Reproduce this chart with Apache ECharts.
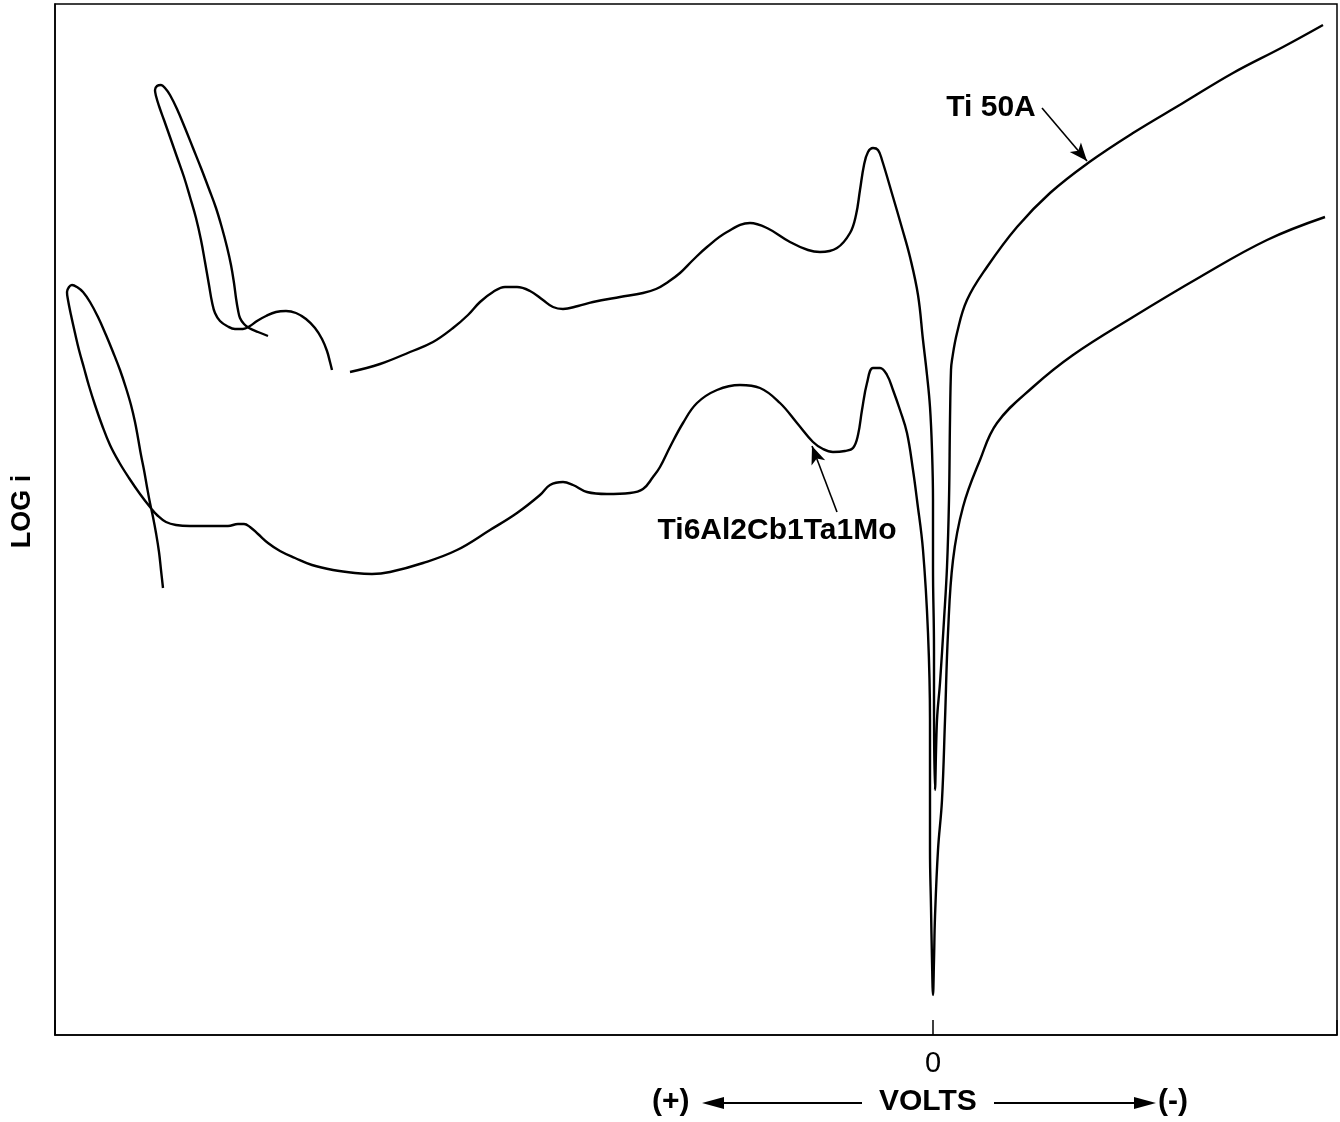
<!DOCTYPE html>
<html>
<head>
<meta charset="utf-8">
<script src="https://cdn.jsdelivr.net/npm/echarts@6/dist/echarts.min.js"></script>
<style>
html,body{margin:0;padding:0;background:#fff;}
#chart{width:1340px;height:1122px;}
</style>
</head>
<body>
<div id="chart"></div>
<script>
// potential (relative, 0 = corrosion potential) vs log i (relative units)
// Ti 50A : reverse loop + hump at the anodic end
var ti50aLoop = [
  [-665,699],[-675,703],[-684,707],[-689,711],[-693,717],[-695,725],[-697,737],[-699,752],
  [-702,770],[-706,788],[-711,807],[-717,827],[-724,846],[-732,867],[-740,887],[-748,907],
  [-756,926],[-763,940],[-768,947],[-772,950],[-776,949],[-778,945],[-777,939],[-774,929],
  [-769,915],[-763,898],[-756,878],[-749,858],[-743,838],[-737,817],[-732,795],[-728,773],
  [-724,750],[-721,733],[-718,722],[-713,714],[-706,709],[-698,706],[-690,706],[-683,709],
  [-676,714],[-667,719],[-657,723],[-647,724],[-637,722],[-627,716],[-618,707],[-611,696],
  [-606,684],[-603,673],[-601,665]
];
// Ti 50A : main scan
var ti50aMain = [
  [-583,663],[-553,671],[-523,683],[-500,693],[-480,707],[-465,720],[-453,733],[-440,743],
  [-428,748],[-416,748],[-403,744],[-390,735],[-380,728],[-370,726],[-355,729],[-340,733],
  [-313,738],[-290,742],[-277,746],[-265,753],[-253,762],[-240,775],[-226,788],[-206,803],
  [-183,812],[-166,807],[-143,793],[-125,785],[-113,783],[-96,787],[-83,802],[-77,820],
  [-73,845],[-69,870],[-65,883],[-60,887],[-55,885],[-51,875],[-40,838],[-31,807],
  [-23,778],[-15,740],[-10,695],[-6,660],[-3,628],[-1,585],[0,535],[0,468],[1,385],
  [1,335],[2,245],[4,315],[7,352],[11,415],[14,468],[16,535],[17,615],[18,665],[19,675],
  [24,702],[34,735],[54,768],[84,808],[117,842],[155,872],[200,902],[250,932],[300,962],
  [350,988],[390,1010]
];
// Ti6Al2Cb1Ta1Mo
var alloyCurve = [
  [-770,447],[-772,465],[-774,483],[-777,502],[-780,518],[-783,532],[-786,548],[-789,565],
  [-792,580],[-795,597],[-798,613],[-802,630],[-807,647],[-813,665],[-820,683],[-827,700],
  [-835,718],[-843,733],[-850,743],[-856,748],[-861,750],[-864,748],[-866,743],[-865,735],
  [-862,720],[-858,702],[-854,685],[-849,667],[-844,649],[-838,630],[-831,610],[-823,590],
  [-814,573],[-804,557],[-793,541],[-783,528],[-775,519],[-767,513],[-757,510],[-743,509],
  [-723,509],[-705,509],[-695,511],[-689,511],[-683,508],[-675,501],[-665,492],[-653,484],
  [-638,477],[-621,470],[-600,465],[-578,462],[-561,461],[-543,463],[-510,472],[-476,485],
  [-443,505],[-416,522],[-393,540],[-383,550],[-370,553],[-360,550],[-346,543],[-326,541],
  [-303,542],[-290,546],[-280,558],[-273,568],[-263,588],[-250,612],[-236,632],[-216,645],
  [-193,650],[-173,647],[-153,632],[-136,612],[-120,593],[-110,586],[-100,583],[-88,584],
  [-80,587],[-75,600],[-71,625],[-66,652],[-60,667],[-53,667],[-46,660],[-40,645],
  [-33,625],[-26,602],[-20,565],[-16,535],[-10,485],[-5,402],[-3,315],[-3,185],[-2,128],
  [-1,75],[0,40],[1,75],[2,118],[5,185],[9,235],[12,315],[15,402],[20,475],[30,528],
  [47,575],[64,612],[100,648],[140,680],[200,718],[267,758],[334,795],[392,818]
];
var xTicks = [0];
var seriesNames = ['Ti 50A', 'Ti6Al2Cb1Ta1Mo'];

var FONT = '"Liberation Sans", Arial, Helvetica, sans-serif';
var chart = echarts.init(document.getElementById('chart'));

// Ti 50A drawn as one path, broken where the trace has a gap
var ti50aData = ti50aLoop.concat([[null, null]], ti50aMain);

var lineStyle = {color:'#000', width:2.4};
var arrowLine = {
  silent:true,
  symbol:['none','arrow'],
  symbolSize:[11,18],
  label:{show:false},
  lineStyle:{color:'#000', width:1.6, type:'solid'},
  emphasis:{disabled:true}
};
var tagLabel = {
  show:true, position:'inside', formatter:'{b}',
  color:'#000', fontSize:30, fontWeight:'bold', fontFamily:FONT
};

var option = {
  animation:false,
  backgroundColor:'#fff',
  grid:{left:55, right:3, top:4, bottom:87, show:true, borderColor:'#000', borderWidth:1.5},
  xAxis:{
    type:'value', min:-878, max:404, interval:878,
    axisLine:{show:true, onZero:false, lineStyle:{color:'#000', width:1.5}},
    axisTick:{show:true, inside:true, length:15, lineStyle:{color:'#000', width:1.5}},
    axisLabel:{
      margin:14, color:'#000', fontSize:29, fontFamily:FONT,
      formatter:function(v){ return xTicks.indexOf(v) >= 0 ? String(v) : ''; }
    },
    splitLine:{show:false}
  },
  yAxis:{
    type:'value', min:0, max:1031,
    name:'LOG i', nameLocation:'middle', nameGap:19, nameRotate:90,
    nameTextStyle:{color:'#000', fontSize:27, fontWeight:'bold', fontFamily:FONT, padding:[0,0,0,16]},
    axisLine:{show:true, onZero:false, lineStyle:{color:'#000', width:1.5}},
    axisTick:{show:false}, axisLabel:{show:false}, splitLine:{show:false}
  },
  series:[
    {
      name:seriesNames[0], type:'line', data:ti50aData,
      smooth:0.4, showSymbol:false, connectNulls:false, clip:false,
      lineStyle:lineStyle, silent:true,
      markLine:Object.assign({}, arrowLine, {data:[[{coord:[109,927]},{coord:[154,874]}]]}),
      markPoint:{symbol:'circle', symbolSize:1, itemStyle:{color:'rgba(0,0,0,0)'}, silent:true,
        label:tagLabel, data:[{name:seriesNames[0], coord:[58,927]}]}
    },
    {
      name:seriesNames[1], type:'line', data:alloyCurve,
      smooth:0.4, showSymbol:false, clip:false,
      lineStyle:lineStyle, silent:true,
      markLine:Object.assign({}, arrowLine, {data:[[{coord:[-96,523]},{coord:[-121,589]}]]}),
      markPoint:{symbol:'circle', symbolSize:1, itemStyle:{color:'rgba(0,0,0,0)'}, silent:true,
        label:tagLabel, data:[{name:seriesNames[1], coord:[-156,504]}]}
    }
  ],
  // VOLTS caption with direction arrows under the axis
  graphic:[
    {type:'text', left:652, top:1087, style:{text:'(+)', fill:'#000', font:'bold 30px ' + FONT}},
    {type:'line', shape:{x1:716, y1:1103, x2:862, y2:1103}, style:{stroke:'#000', lineWidth:2}},
    {type:'polygon', shape:{points:[[702,1103],[724,1097],[724,1109]]}, style:{fill:'#000'}},
    {type:'text', left:879, top:1087, style:{text:'VOLTS', fill:'#000', font:'bold 30px ' + FONT}},
    {type:'line', shape:{x1:994, y1:1103, x2:1142, y2:1103}, style:{stroke:'#000', lineWidth:2}},
    {type:'polygon', shape:{points:[[1156,1103],[1134,1097],[1134,1109]]}, style:{fill:'#000'}},
    {type:'text', left:1158, top:1087, style:{text:'(-)', fill:'#000', font:'bold 30px ' + FONT}}
  ]
};
chart.setOption(option);
</script>
</body>
</html>
